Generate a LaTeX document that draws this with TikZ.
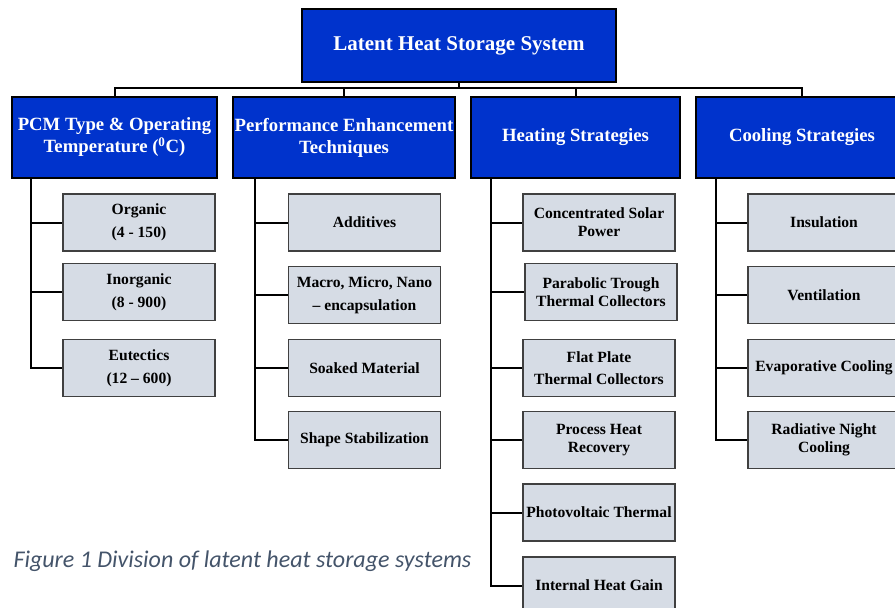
\documentclass[tikz,border=0pt]{standalone}
\usepackage{fontspec}
\setmainfont{Liberation Serif}
\newfontfamily\capfont{Carlito}
\usetikzlibrary{calc}

\definecolor{headblue}{RGB}{0,51,204}
\definecolor{leafgrey}{RGB}{214,220,229}
\definecolor{capgrey}{RGB}{68,84,106}

\tikzset{
  headbox/.style={draw=black,line width=1.8pt,fill=headblue,text=white,
    align=center,inner sep=2pt,font=\bfseries\fontsize{18.7}{22}\selectfont},
  leafbox/.style={draw=black!75,line width=1.4pt,fill=leafgrey,text=black,
    align=center,inner sep=2pt,minimum width=152pt,minimum height=57pt,
    font=\bfseries\fontsize{15.6}{18}\selectfont},
  link/.style={draw=black,line width=2pt}
}

\begin{document}
\begin{tikzpicture}[x=1pt,y=-1pt]

      \useasboundingbox (0,0) rectangle (895,608);
      \clip (0,0) rectangle (895,608);

      % Nodes
      \node[headbox,minimum width=314pt,minimum height=73pt] (lhss) at (459,45.5)
        {\fontsize{21}{24}\selectfont Latent Heat Storage System};

      \begin{scope}[every node/.style={headbox,minimum height=81pt}]
        \node[minimum width=205pt] (pcm) at (114.5,137.5) {PCM Type \& Operating\\Temperature (\textsuperscript{0}C)};
        \node[minimum width=222pt] (enh) at (344,137.5) {Performance Enhancement\\Techniques};
        \node[minimum width=209pt] (heat) at (575.5,137.5) {Heating Strategies};
        \node[minimum width=212pt] (cool) at (802,137.5) {Cooling Strategies};
      \end{scope}

      \begin{scope}[every node/.style={leafbox}]
        \node (p1) at (139,222.5) {Organic\\[5pt](4 - 150)};
        \node (p2) at (139,292) {Inorganic\\[5pt](8 - 900)};
        \node (p3) at (139,368) {Eutectics\\[5pt](12 -- 600)};

        \node (e1) at (364.5,222.5) {Additives};
        \node (e2) at (364.5,295) {Macro, Micro, Nano\\[5pt]-- encapsulation};
        \node (e3) at (364.5,368) {Soaked Material};
        \node (e4) at (364.5,440) {Shape Stabilization};

        \node (h1) at (599,222.5) {Concentrated Solar\\Power};
        \node (h2) at (601,292) {Parabolic Trough\\Thermal Collectors};
        \node (h3) at (599,368) {Flat Plate\\[4pt]Thermal Collectors};
        \node (h4) at (599,440) {Process Heat\\Recovery};
        \node (h5) at (599,512.5) {Photovoltaic Thermal};
        \node (h6) at (599,585.5) {Internal Heat Gain};

        \node (c1) at (824,222.5) {Insulation};
        \node (c2) at (824,295) {Ventilation};
        \node (c3) at (824,368) {Evaporative Cooling};
        \node (c4) at (824,440) {Radiative Night\\Cooling};
      \end{scope}

      % Caption
      \node[anchor=west,text=capgrey,font=\capfont\itshape\fontsize{24}{28}\selectfont]
        (caption) at (10,561) {Figure 1 Division of latent heat storage systems};

      % Edges
      \draw[link] (lhss.south) |- ([yshift=8pt]pcm.north) -- (pcm.north);
      \draw[link] (lhss.south) |- ([yshift=8pt]enh.north) -- (enh.north);
      \draw[link] (lhss.south) |- ([yshift=8pt]heat.north) -- (heat.north);
      \draw[link] (lhss.south) |- ([yshift=8pt]cool.north) -- (cool.north);

      \draw[link] ([xshift=20pt]pcm.south west) |- (p1.west);
      \draw[link] ([xshift=20pt]pcm.south west) |- (p2.west);
      \draw[link] ([xshift=20pt]pcm.south west) |- (p3.west);

      \draw[link] ([xshift=23pt]enh.south west) |- (e1.west);
      \draw[link] ([xshift=23pt]enh.south west) |- (e2.west);
      \draw[link] ([xshift=23pt]enh.south west) |- (e3.west);
      \draw[link] ([xshift=23pt]enh.south west) |- (e4.west);

      \draw[link] ([xshift=21pt]heat.south west) |- (h1.west);
      \draw[link] ([xshift=21pt]heat.south west) |- (h2.west);
      \draw[link] ([xshift=21pt]heat.south west) |- (h3.west);
      \draw[link] ([xshift=21pt]heat.south west) |- (h4.west);
      \draw[link] ([xshift=21pt]heat.south west) |- (h5.west);
      \draw[link] ([xshift=21pt]heat.south west) |- (h6.west);

      \draw[link] ([xshift=21pt]cool.south west) |- (c1.west);
      \draw[link] ([xshift=21pt]cool.south west) |- (c2.west);
      \draw[link] ([xshift=21pt]cool.south west) |- (c3.west);
      \draw[link] ([xshift=21pt]cool.south west) |- (c4.west);

\end{tikzpicture}
\end{document}
